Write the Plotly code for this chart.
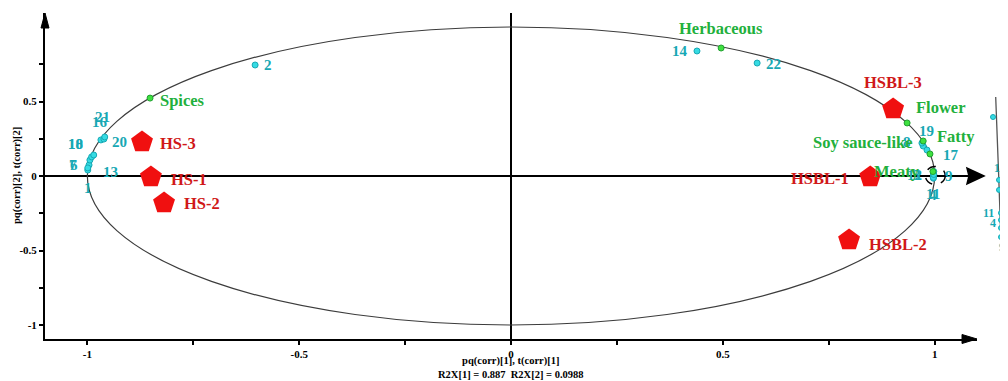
import plotly.graph_objects as go

# ---------------- data ----------------
sample_names = ["HS-1", "HS-2", "HS-3", "HSBL-1", "HSBL-2", "HSBL-3"]
sample_x = [-0.850, -0.819, -0.871, 0.848, 0.798, 0.902]
sample_y = [-0.007, -0.181, 0.228, -0.007, -0.430, 0.450]

attr_names = ["Spices", "Herbaceous", "Flower", "Soy sauce-like", "Fatty", "Meaty"]
attr_x = [-0.852, 0.496, 0.935, 0.973, 0.989, 0.996]
attr_y = [0.523, 0.859, 0.356, 0.235, 0.148, 0.030]

comp_ids = ["1", "2", "3", "4", "6", "7", "8", "9", "10", "11", "12",
            "13", "14", "15", "16", "17", "18", "19", "20", "21", "22"]
comp_x = [-0.999, -0.604, 0.997, 0.997, -0.996, -0.994, 0.973, 0.997, -0.990, 0.997, 0.998,
          -0.999, 0.439, 0.998, -0.968, 0.982, -0.985, 0.970, -0.961, -0.959, 0.581]
comp_y = [0.040, 0.745, 0.020, -0.015, 0.074, 0.107, 0.201, 0.000, 0.128, -0.010, 0.030,
          0.054, 0.839, 0.010, 0.242, 0.174, 0.141, 0.221, 0.248, 0.262, 0.758]

# magnified inset of the dashed region (inset's own 0-1 coordinates)
inset_ids = ["17", "15", "3", "11", "4", "12", "9"]
inset_x = [0.348, 0.609, 0.609, 0.696, 0.696, 0.696, 0.696]
inset_y = [0.843, 0.477, 0.419, 0.285, 0.244, 0.198, 0.145]
inset_arc_x = [0.465, 0.594, 0.709]
inset_arc_y = [0.959, 0.506, 0.064]

x_tick_vals = [-1, -0.5, 0, 0.5, 1]
x_tick_text = ["-1", "-0.5", "0", "0.5", "1"]
x_minor_vals = [-0.75, -0.25, 0.25, 0.75]
y_tick_vals = [-1, -0.5, 0, 0.5]
y_tick_text = ["-1", "-0.5", "0", "0.5"]
y_minor_vals = [-0.75, -0.25, 0.25, 0.75]
x_title = "pq(corr)[1], t(corr)[1]"
r2x_text = "R2X[1] = 0.887  R2X[2] = 0.0988"
y_title = "pq(corr)[2], t(corr)[2]"

# ---------------- styles ----------------
FONT = "Liberation Serif"
CYAN_TXT = "#17a8b4"
CYAN_FILL = "#35dbe3"
GREEN_TXT = "#22b03c"
GREEN_FILL = "#3fe040"
RED_FILL = "#f01010"
RED_TXT = "#d01818"

# label placement: (xanchor, xshift px, yshift px)
sample_lbl = {"HS-1": ("left", 19, -2), "HS-2": ("left", 19, -1), "HS-3": ("left", 17, -1),
              "HSBL-1": ("right", -20, -1), "HSBL-2": ("left", 19, -4), "HSBL-3": ("center", 0, 26)}
attr_lbl = {"Spices": ("left", 9, -2), "Herbaceous": ("center", 0, 20), "Flower": ("left", 8, 15),
            "Soy sauce-like": ("right", -10, -2), "Fatty": ("left", 6, 17), "Meaty": ("right", -12, 0)}
comp_lbl = {"1": ("center", 0, -18), "2": ("left", 8, 0), "3": ("right", -11, -2),
            "4": ("center", 0, -17), "6": ("right", -10, 0), "7": ("right", -12, -5),
            "8": ("center", -16, 4), "9": ("left", 11, 0), "10": ("right", -8, 13),
            "11": ("center", 0, -17), "12": ("right", -11, -3), "13": ("left", 14, -4),
            "14": ("right", -8, 0), "16": ("center", -1, 18), "17": ("left", 15, -5),
            "18": ("right", -10, 11), "19": ("center", 5, 12), "20": ("left", 7, -3),
            "21": ("center", -2, 20), "22": ("left", 8, -1)}
inset_lbl = {"17": ("left", 7, 0), "15": ("center", 1, 12), "3": ("left", 6, 4),
             "11": ("right", -6, 0), "4": ("right", -4, -3), "9": ("center", 1, -10)}

# page geometry (the page body adds an 8 px offset)
OFF = 8
PAGE_W, PAGE_H = 1008, 381
W, H = PAGE_W - OFF, PAGE_H - OFF
PLOT_L, PLOT_T, PLOT_B = 45, 13, 339     # plot area edges in page pixels
ML, MT, MB = PLOT_L - OFF, PLOT_T - OFF, PAGE_H - PLOT_B
PW = W - ML
PH = H - MT - MB
X_END_PX = 977


def px2paper_x(px):
    return (px - PLOT_L) / PW


def px2paper_y(py):
    return (PLOT_B - py) / PH


fig = go.Figure()

fig.add_trace(go.Scatter(x=comp_x, y=comp_y, mode="markers", hoverinfo="skip",
                         marker=dict(size=6, color=CYAN_FILL, line=dict(color=CYAN_TXT, width=1))))
fig.add_trace(go.Scatter(x=attr_x, y=attr_y, mode="markers", hoverinfo="skip",
                         marker=dict(size=6, color=GREEN_FILL, line=dict(color="#20a030", width=1))))
fig.add_trace(go.Scatter(x=sample_x, y=sample_y, mode="markers", hoverinfo="skip",
                         marker=dict(symbol="pentagon", size=23, color=RED_FILL,
                                     line=dict(color=RED_FILL, width=0))))
fig.add_trace(go.Scatter(x=inset_arc_x, y=inset_arc_y, mode="lines", xaxis="x2", yaxis="y2",
                         hoverinfo="skip", line=dict(color="#555555", width=1.3, shape="spline")))
fig.add_trace(go.Scatter(x=inset_x, y=inset_y, mode="markers", xaxis="x2", yaxis="y2",
                         hoverinfo="skip",
                         marker=dict(size=5, color=CYAN_FILL, line=dict(color=CYAN_TXT, width=1))))


def add_labels(names, xs, ys, style, color, size, xref="x", yref="y"):
    for n, x, y in zip(names, xs, ys):
        if n not in style:
            continue
        anchor, dx, dy = style[n]
        fig.add_annotation(x=x, y=y, xref=xref, yref=yref, text="<b>%s</b>" % n,
                           showarrow=False, xanchor=anchor, yanchor="middle",
                           xshift=dx, yshift=dy, borderpad=0,
                           font=dict(family=FONT, size=size, color=color))


add_labels(comp_ids, comp_x, comp_y, comp_lbl, CYAN_TXT, 15)
add_labels(attr_names, attr_x, attr_y, attr_lbl, GREEN_TXT, 16.5)
add_labels(sample_names, sample_x, sample_y, sample_lbl, RED_TXT, 16.5)
add_labels(inset_ids, inset_x, inset_y, inset_lbl, CYAN_TXT, 12, xref="x2", yref="y2")

fig.add_shape(type="circle", xref="x", yref="y", x0=-1, x1=1, y0=-1, y1=1,
              line=dict(color="#3c3c3c", width=1.2), layer="below")
fig.add_shape(type="circle", xref="x", yref="y", x0=0.978, x1=1.025, y0=-0.057, y1=0.064,
              line=dict(color="black", width=1.5, dash="dash"))
yz_tip = px2paper_x(984)
fig.add_shape(type="line", xref="paper", yref="y", x0=0, x1=yz_tip - 10 / PW, y0=0, y1=0,
              line=dict(color="black", width=2), layer="below")
fig.add_shape(type="path", xref="paper", yref="y", xsizemode="pixel", ysizemode="pixel",
              xanchor=yz_tip, yanchor=0, path="M0,0 L-17,8 L-15,0 L-17,-8 Z",
              fillcolor="black", line=dict(color="black", width=1.5))
fig.add_shape(type="line", xref="x", yref="paper", x0=0, x1=0, y0=0, y1=1,
              line=dict(color="black", width=2), layer="below")
fig.add_shape(type="path", xref="paper", yref="paper", xsizemode="pixel", ysizemode="pixel",
              xanchor=px2paper_x(X_END_PX), yanchor=0, path="M0,0 L-15,4.5 L-15,-4.5 Z",
              fillcolor="black", line=dict(color="black", width=1))
fig.add_shape(type="path", xref="paper", yref="paper", xsizemode="pixel", ysizemode="pixel",
              xanchor=0, yanchor=1, path="M0,0 L-4,-15 L4,-15 Z",
              fillcolor="black", line=dict(color="black", width=1))

fig.add_annotation(xref="x", yref="paper", x=0, y=0, yanchor="top", yshift=-14,
                   text="<b>%s</b><br><b>%s</b>" % (x_title, r2x_text), showarrow=False,
                   font=dict(family=FONT, size=10.5, color="black"))
fig.add_annotation(xref="paper", yref="y", x=0, y=0, xanchor="center", xshift=-28,
                   text="<b>%s</b>" % y_title, textangle=-90, showarrow=False,
                   font=dict(family=FONT, size=10.5, color="black"))

tickfont = dict(family=FONT, size=11, color="black", weight="bold")
fig.update_layout(
    width=W, height=H, autosize=False,
    margin=dict(l=ML, r=0, t=MT, b=MB, pad=0),
    paper_bgcolor="white", plot_bgcolor="white", showlegend=False,
    xaxis=dict(domain=[0, px2paper_x(X_END_PX)], range=[-1.1, 1.1], showgrid=False,
               zeroline=False, showline=True, linecolor="black", linewidth=2,
               ticks="outside", ticklen=4, tickwidth=1.5, tickcolor="black",
               tickvals=x_tick_vals, ticktext=x_tick_text, tickfont=tickfont,
               minor=dict(tickvals=x_minor_vals, ticks="outside", ticklen=4,
                          tickwidth=1.5, tickcolor="black", showgrid=False)),
    yaxis=dict(domain=[0, 1], range=[-1.094, 1.094], showgrid=False,
               zeroline=False, showline=True, linecolor="black", linewidth=2,
               ticks="outside", ticklen=4, tickwidth=1.5, tickcolor="black",
               tickvals=y_tick_vals, ticktext=y_tick_text, tickfont=tickfont,
               minor=dict(tickvals=y_minor_vals, ticks="outside", ticklen=4,
                          tickwidth=1.5, tickcolor="black", showgrid=False)),
    xaxis2=dict(domain=[px2paper_x(985), 1], range=[0, 1], visible=False, anchor="y2"),
    yaxis2=dict(domain=[px2paper_y(262), px2paper_y(90)], range=[0, 1], visible=False,
                anchor="x2"),
)

fig.write_html("out.html")
